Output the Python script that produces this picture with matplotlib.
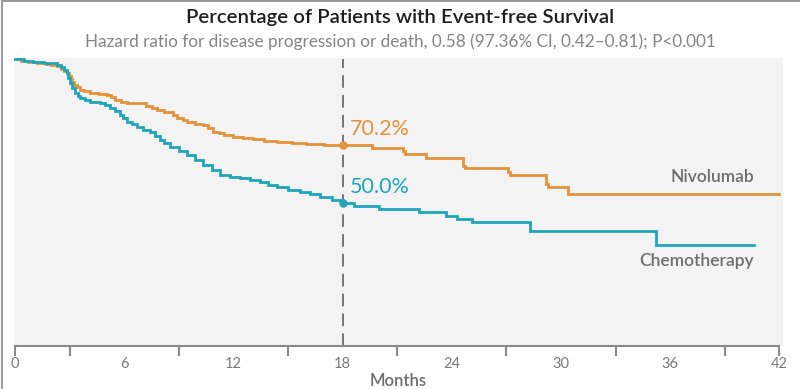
import matplotlib
matplotlib.use("Agg")
import matplotlib.pyplot as plt
from matplotlib.lines import Line2D

# ---- data ----
nivo_months = [0, 0.3, 0.7, 1.2, 1.7, 2.0, 2.3, 2.5, 2.7, 2.86, 2.95, 3.05, 3.13, 3.25, 3.4,
               3.57, 3.8, 4.12, 4.6, 5.05, 5.25, 5.49, 5.8, 6.15, 7.03, 7.2, 7.5, 7.8, 8.2,
               8.68, 8.9, 9.2, 9.45, 9.9, 10.3, 10.6, 10.9, 11.2, 11.5, 12.0, 12.5, 13.1,
               13.7, 14.4, 15.2, 16.0, 17.0, 18.0, 19.6, 21.3, 21.4, 22.6, 24.6, 24.7, 27.1,
               27.2, 29.2, 29.3, 30.4, 42.0]
nivo_pct = [100, 99.6, 99.2, 98.8, 98.5, 98.1, 97.6, 96.8, 96.0, 95.2, 94.2, 93.2, 92.1, 91.2,
            90.3, 89.4, 88.9, 88.3, 88.0, 87.6, 86.8, 85.9, 85.3, 84.8, 84.8, 83.8, 83.1, 82.4,
            81.5, 80.6, 79.6, 78.9, 78.2, 77.6, 77.1, 76.0, 74.7, 74.2, 73.6, 72.9, 72.6, 72.2,
            71.7, 71.2, 70.8, 70.5, 70.3, 70.2, 69.0, 67.9, 67.0, 65.7, 62.9, 62.1, 60.7,
            59.7, 56.5, 55.5, 53.2, 53.2]

chemo_months = [0, 0.5, 1.0, 1.6, 2.3, 2.5, 2.7, 2.86, 2.93, 3.0, 3.15, 3.3, 3.45, 3.57, 3.85,
                4.12, 4.67, 4.95, 5.2, 5.5, 5.77, 5.95, 6.15, 6.4, 6.7, 7.05, 7.4, 7.7, 7.96,
                8.2, 8.5, 9.0, 9.45, 9.9, 10.3, 10.8, 11.26, 11.8, 12.36, 12.9, 13.45, 13.9,
                14.4, 15.0, 15.65, 16.2, 16.75, 17.4, 18.0, 18.6, 20.0, 22.2, 23.7, 24.3, 25.1,
                28.3, 35.2, 40.6]
chemo_pct = [100, 99.5, 99.1, 98.6, 98.1, 97.2, 96.2, 95.3, 93.5, 91.8, 90.0, 88.3, 87.4, 86.6,
             85.8, 85.2, 84.8, 84.0, 83.1, 82.0, 80.6, 79.4, 78.2, 77.3, 76.4, 75.5, 74.7, 73.3,
             71.9, 70.7, 69.5, 68.0, 66.7, 64.9, 63.2, 61.5, 59.7, 59.1, 58.6, 57.9, 57.2, 56.3,
             55.5, 54.6, 53.8, 52.9, 52.0, 51.1, 50.0, 49.0, 47.8, 46.6, 45.4, 44.3, 43.3,
             40.0, 35.3, 35.3]

landmark_month = 18
landmark_nivo = 70.2
landmark_chemo = 50.0

xticks = [0, 6, 12, 18, 24, 30, 36, 42]
minor_ticks = [0, 3, 9, 15, 21, 27, 33, 39, 42]

title = "Percentage of Patients with Event-free Survival"
subtitle = "Hazard ratio for disease progression or death, 0.58 (97.36% CI, 0.42\u20130.81); P<0.001"

ORANGE = "#E3923A"
TEAL = "#1FA5BA"
GRAY = "#7a7a7a"

plt.rcParams['font.family'] = ['Lato', 'DejaVu Sans']

fig = plt.figure(figsize=(8.0, 3.89), dpi=100)
ax = fig.add_axes([14/800, (389-346)/389, (783-14)/800, (346-58)/389])
ax.set_facecolor("#f3f3f3")
ax.set_xlim(-0.06, 42.2)
ax.set_ylim(0, 100.5)

for s in ["top", "right", "left"]:
    ax.spines[s].set_visible(False)
ax.spines["bottom"].set_color("#8a8a8a")
ax.spines["bottom"].set_linewidth(1.5)
ax.spines["bottom"].set_bounds(0, 42)
ax.set_yticks([])

ax.step(nivo_months, nivo_pct, where="post", color=ORANGE, lw=2.0, solid_joinstyle="miter")
ax.step(chemo_months, chemo_pct, where="post", color=TEAL, lw=2.0, solid_joinstyle="miter")

ax.axvline(landmark_month, ymin=0, ymax=0.995, color="#6a6a6a", lw=1.3,
           dashes=(7, 4), clip_on=False)
ax.plot([landmark_month], [landmark_nivo], "o", color=ORANGE, ms=5)
ax.plot([landmark_month], [landmark_chemo], "o", color=TEAL, ms=5)

ax.text(landmark_month + 0.4, landmark_nivo + 2.0, f"{landmark_nivo:.1f}%", color=ORANGE,
        fontsize=15.5, ha="left", va="bottom")
ax.text(landmark_month + 0.4, landmark_chemo + 2.0, f"{landmark_chemo:.1f}%", color=TEAL,
        fontsize=15.5, ha="left", va="bottom")

ax.text(40.6, 56.3, "Nivolumab", color="#6e6e6e", fontsize=12.5, ha="right", va="bottom",
        fontweight="semibold")
ax.text(40.6, 32.3, "Chemotherapy", color="#6e6e6e", fontsize=12.5, ha="right", va="top",
        fontweight="semibold")

ax.xaxis.remove_overlapping_locs = False
ax.set_xticks(xticks)
ax.set_xticklabels([str(t) for t in xticks])
ax.set_xticks(minor_ticks, minor=True)
ax.tick_params(axis="x", which="major", length=0, pad=8, labelsize=10.5, labelcolor=GRAY)
ax.tick_params(axis="x", which="minor", length=7, width=1.5, color="#8a8a8a")
ax.set_xlabel("Months", fontsize=12, color="#6e6e6e", fontweight="semibold", labelpad=1)

fig.text(0.5, 1 - 18/389, title, ha="center", va="center", fontsize=14.7,
         fontweight="semibold", color="#1e1e1e")
fig.text(0.5, 1 - 42/389, subtitle, ha="center", va="center", fontsize=12.3, color="#858585")

fig.add_artist(Line2D([0.002, 0.002], [0, 0.997], transform=fig.transFigure, color="#9a9a9a", lw=1.5))
fig.add_artist(Line2D([0.002, 1.0], [0.997, 0.997], transform=fig.transFigure, color="#9a9a9a", lw=1.5))

fig.savefig("out.png", dpi=100, facecolor="white")
